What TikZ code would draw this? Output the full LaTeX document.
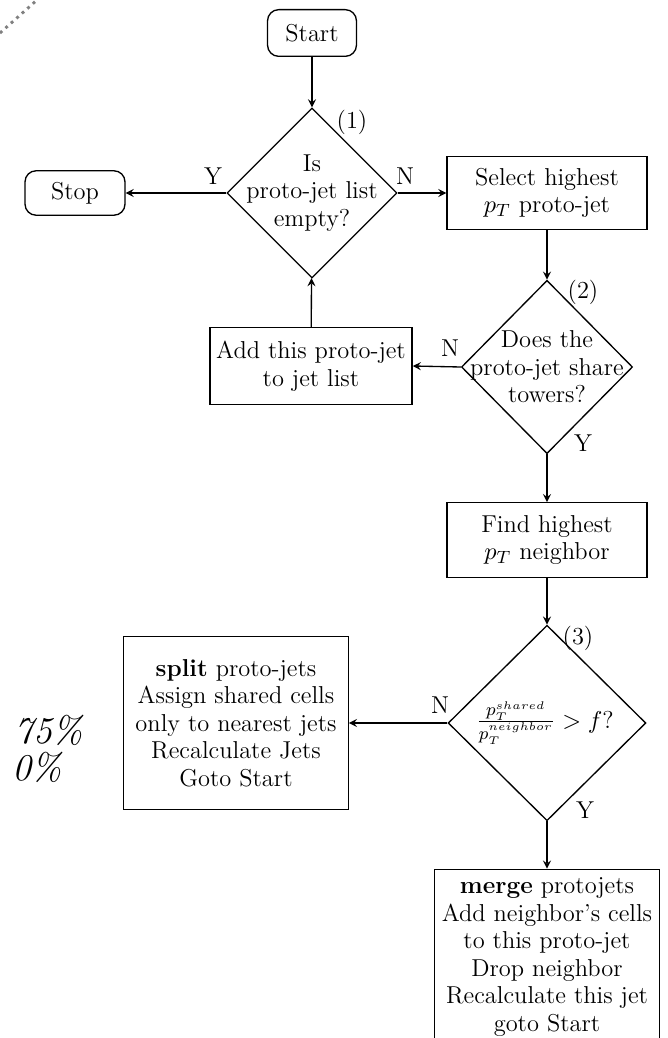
\documentclass[tikz,border=0pt]{standalone}
\usetikzlibrary{shapes.geometric}
\begin{document}
\begin{tikzpicture}[->,>=stealth,x=0.45pt,y=-0.45pt,line width=0.6pt]
      \tikzstyle{every node}=[font=\fontsize{11}{12.4}\selectfont];
      \tikzstyle{term}=[draw,rounded corners=5pt,minimum width=40pt,minimum height=21pt,inner sep=1pt];
      \tikzstyle{box}=[draw,align=center,inner sep=1pt];
      \tikzstyle{decision}=[draw,diamond,shape aspect=1,inner sep=0pt];
      \tikzstyle{tag}=[inner sep=0pt];
      \tikzstyle{scan}=[anchor=base east,inner sep=0pt,font=\fontsize{17}{19}\selectfont\itshape];
      \clip (0,0) rectangle (667,1038);

        % scan leftovers
        \draw[-,dotted,line width=1.3pt,gray] (0,33) -- (37,0);
        \path (83,743) node[scan] (pcta) {75\%};
        \path (62,780) node[scan] (pctb) {0\%};

        \path (312,33)  node[term] (start) {Start};
        \path (75,193)  node[term,minimum width=45pt,minimum height=20pt] (stop) {Stop};

        \path (312,193) node[decision,minimum width=76.5pt,minimum height=76.5pt] (d1) {};
        \path (312,193) node[align=center] (t1) {Is\\proto-jet list\\empty?};
        \path (547,193) node[box,minimum width=90pt,minimum height=33pt] (select) {Select highest\\$p_T$ proto-jet};

        \path (547,367) node[decision,minimum width=77pt,minimum height=78pt] (d2) {};
        \path (547,367) node[align=center] (t2) {Does the\\proto-jet share\\towers?};
        \path (311,366) node[box,minimum width=91pt,minimum height=34.5pt] (add) {Add this proto-jet\\to jet list};

        \path (547,540) node[box,minimum width=90pt,minimum height=33.5pt] (find) {Find highest\\$p_T$ neighbor};

        \path (547,723) node[decision,minimum width=89pt,minimum height=88pt] (d3) {};
        \path (545,723) node (t3) {$\frac{p_T^{shared}}{p_T^{neighbor}} > f$?};
        \path (236,723) node[box,minimum width=101pt,minimum height=78pt] (split)
              {\textbf{split} proto-jets\\Assign shared cells\\only to nearest jets\\Recalculate Jets\\Goto Start};
        \path (547,957) node[box,minimum width=101pt,minimum height=79pt] (merge)
              {\textbf{merge} protojets\\Add neighbor's cells\\to this proto-jet\\Drop neighbor\\Recalculate this jet\\goto Start};

        % branch tags
        \path (352,122) node[tag] (n1) {(1)};
        \path (405,176) node[tag] (n1n) {N};
        \path (213,176) node[tag] (n1y) {Y};
        \path (583,292) node[tag] (n2) {(2)};
        \path (450,348) node[tag] (n2n) {N};
        \path (583,443) node[tag] (n2y) {Y};
        \path (578,638) node[tag] (n3) {(3)};
        \path (440,705) node[tag] (n3n) {N};
        \path (585,810) node[tag] (n3y) {Y};

        \path[->,draw] (start) -- (d1);
        \path[->,draw] (d1.west) -- (stop.east);
        \path[->,draw] (d1.east) -- (select.west);
        \path[->,draw] (select) -- (d2);
        \path[->,draw] (d2.west) -- (add.east);
        \path[->,draw] (add) -- (d1);
        \path[->,draw] (d2) -- (find);
        \path[->,draw] (find) -- (d3);
        \path[->,draw] (d3.west) -- (split.east);
        \path[->,draw] (d3) -- (merge);
    \end{tikzpicture}
\end{document}
